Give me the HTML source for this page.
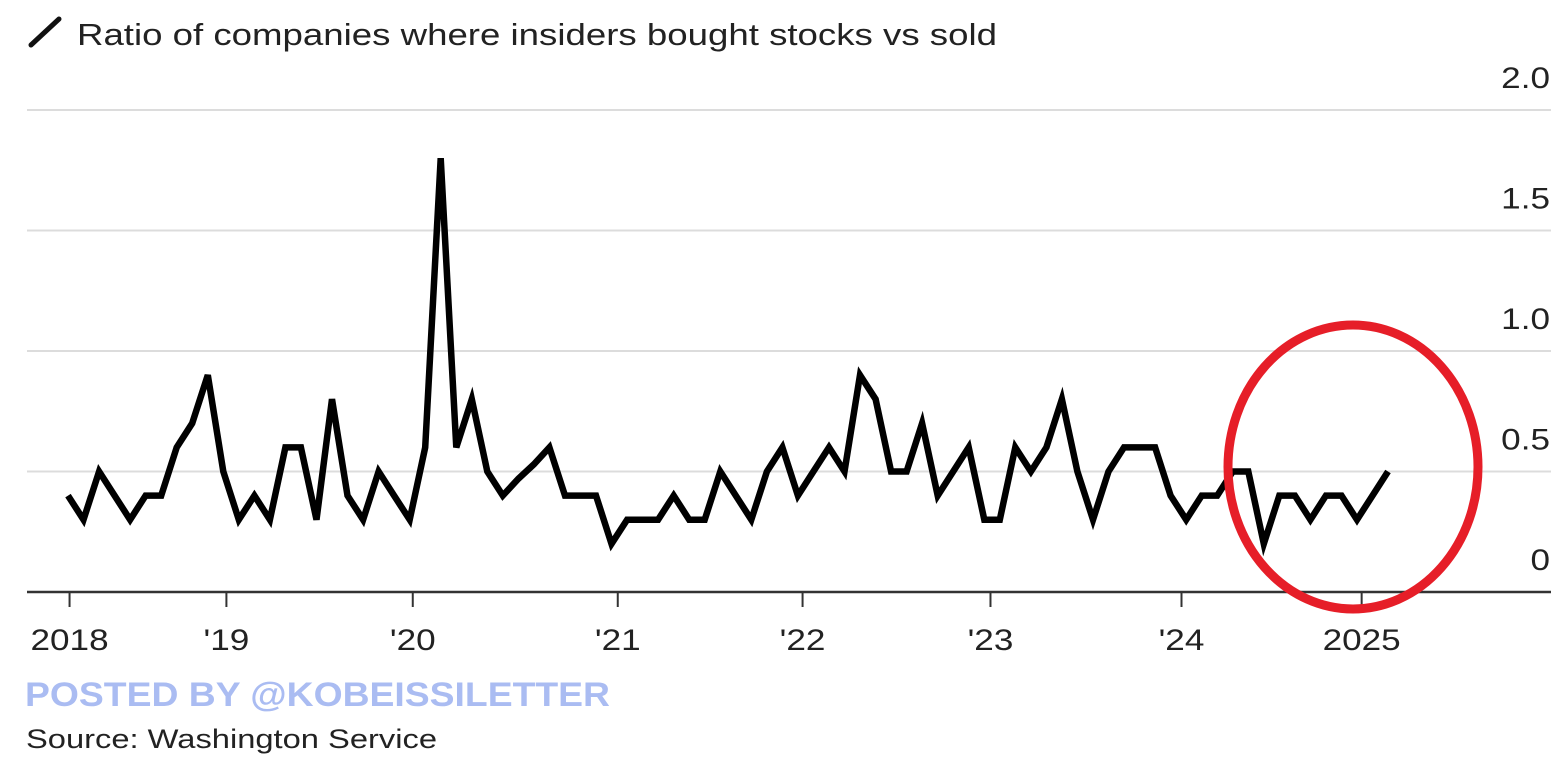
<!DOCTYPE html>
<html><head><meta charset="utf-8">
<style>
html,body{margin:0;padding:0;background:#fff;}
svg{display:block;font-family:"Liberation Sans",Arial,sans-serif;}
</style></head>
<body>
<svg id="chart" width="1567" height="762" viewBox="0 0 1567 762">
  <line x1="31" y1="45" x2="59" y2="19" stroke="#111" stroke-width="5" stroke-linecap="round"/>
  <text x="77" y="45" font-size="31" fill="#222" textLength="920" lengthAdjust="spacingAndGlyphs">Ratio of companies where insiders bought stocks vs sold</text>
  <g id="grid"></g>
  <g id="yLabels"></g>
  <g id="xAxis"></g>
  <path id="series" fill="none" stroke="#000" stroke-width="6.5" stroke-linejoin="miter" stroke-miterlimit="4"/>
  <ellipse cx="1353" cy="467" rx="125" ry="142" fill="none" stroke="#e61e28" stroke-width="9"/>
  <text x="25" y="706" font-size="34" font-weight="bold" fill="#aabcf2" textLength="585" lengthAdjust="spacingAndGlyphs">POSTED BY @KOBEISSILETTER</text>
  <text x="26" y="748" font-size="27" fill="#222" textLength="411" lengthAdjust="spacingAndGlyphs">Source: Washington Service</text>
</svg>
<script>
const values = [0.4,0.3,0.5,0.4,0.3,0.4,0.4,0.6,0.7,0.9,0.5,0.3,0.4,0.3,0.6,0.6,0.3,0.8,0.4,0.3,0.5,0.4,0.3,0.6,1.8,0.6,0.8,0.5,0.4,0.47,0.53,0.6,0.4,0.4,0.4,0.2,0.3,0.3,0.3,0.4,0.3,0.3,0.5,0.4,0.3,0.5,0.6,0.4,0.5,0.6,0.5,0.9,0.8,0.5,0.5,0.7,0.4,0.5,0.6,0.3,0.3,0.6,0.5,0.6,0.8,0.5,0.3,0.5,0.6,0.6,0.6,0.4,0.3,0.4,0.4,0.5,0.5,0.2,0.4,0.4,0.3,0.4,0.4,0.3,0.4,0.5];
const yTicks = [0,0.5,1.0,1.5,2.0];
const yTickLabels = ["0","0.5","1.0","1.5","2.0"];
const xTickPos = [0.1,10.2,22.2,35.4,47.3,59.4,71.7,83.3];
const xTickLabels = ["2018","'19","'20","'21","'22","'23","'24","2025"];

const NS="http://www.w3.org/2000/svg";
const X0=68, XSTEP=15.53, Y0=592, YSCALE=241;
function xs(i){return X0+XSTEP*i;}
function ys(v){return Y0-YSCALE*v;}
function widen(t,f){const w=t.getComputedTextLength();t.setAttribute('textLength',(w*f).toFixed(1));t.setAttribute('lengthAdjust','spacingAndGlyphs');}

const grid=document.getElementById('grid');
const yl=document.getElementById('yLabels');
yTicks.forEach((t,k)=>{
  const y=ys(t);
  if(t>0){
    const ln=document.createElementNS(NS,'line');
    ln.setAttribute('x1',27);ln.setAttribute('x2',1551);
    ln.setAttribute('y1',y);ln.setAttribute('y2',y);
    ln.setAttribute('stroke','#dcdcdc');ln.setAttribute('stroke-width',2);
    
    
    grid.appendChild(ln);
  }
  const tx=document.createElementNS(NS,'text');
  tx.setAttribute('x',1550);tx.setAttribute('y',y-22);
  tx.setAttribute('text-anchor','end');tx.setAttribute('font-size',30);tx.setAttribute('fill','#222');
  tx.textContent=yTickLabels[k];
  
  
  yl.appendChild(tx);
  widen(tx,1.17);
});

const xa=document.getElementById('xAxis');
const base=document.createElementNS(NS,'line');
base.setAttribute('x1',27);base.setAttribute('x2',1551);base.setAttribute('y1',Y0);base.setAttribute('y2',Y0);
base.setAttribute('stroke','#333');base.setAttribute('stroke-width',2.5);


xa.appendChild(base);
xTickPos.forEach((p,k)=>{
  const x=xs(p);
  const tk=document.createElementNS(NS,'line');
  tk.setAttribute('x1',x);tk.setAttribute('x2',x);tk.setAttribute('y1',Y0);tk.setAttribute('y2',Y0+15);
  tk.setAttribute('stroke','#333');tk.setAttribute('stroke-width',2);
  
  
  xa.appendChild(tk);
  const tx=document.createElementNS(NS,'text');
  tx.setAttribute('x',x);tx.setAttribute('y',650);tx.setAttribute('text-anchor','middle');
  tx.setAttribute('font-size',30);tx.setAttribute('fill','#222');
  tx.textContent=xTickLabels[k];
  
  
  xa.appendChild(tx);
  widen(tx,1.17);
});

document.getElementById('series').setAttribute('d',values.map((v,i)=>(i?'L':'M')+xs(i).toFixed(1)+' '+ys(v).toFixed(1)).join(' '));
</script>
</body></html>
